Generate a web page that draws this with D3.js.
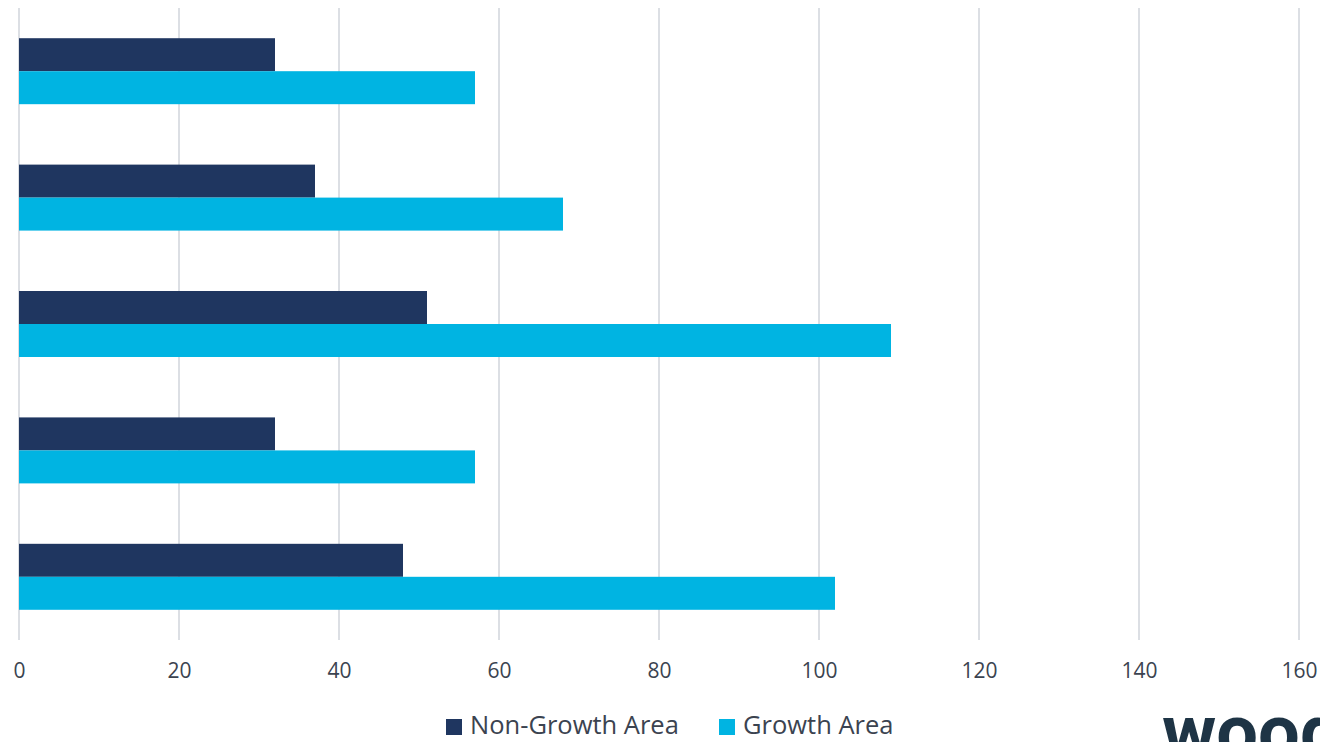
<!DOCTYPE html>
<html>
<head>
<meta charset="utf-8">
<script src="https://cdn.jsdelivr.net/npm/d3@7"></script>
<style>
  html, body { margin: 0; padding: 0; background: #ffffff; overflow: hidden; }
  svg { display: block; }
</style>
</head>
<body>
<svg id="chart" width="1320" height="742"></svg>
<script>
// Groups listed top to bottom
const categories = ["Group 1", "Group 2", "Group 3", "Group 4", "Group 5"];
const seriesNames = ["Non-Growth Area", "Growth Area"];
const nonGrowth = [32, 37, 51, 32, 48];
const growth = [57, 68, 109, 57, 102];
const xTicks = [0, 20, 40, 60, 80, 100, 120, 140, 160];
const colors = ["#1F3660", "#00B4E2"];

const svg = d3.select("#chart");
const plot = { left: 19, right: 1299, top: 8, bottom: 640 };

const x = d3.scaleLinear().domain([0, 160]).range([plot.left, plot.right]);
const y = d3.scaleBand().domain(categories).range([plot.top, plot.bottom])
  .paddingInner(0.478).paddingOuter(0.239);
const ySub = d3.scaleBand().domain(seriesNames).range([0, y.bandwidth()]);

// Vertical gridlines
svg.append("g").selectAll("line").data(xTicks).join("line")
  .attr("x1", d => x(d)).attr("x2", d => x(d))
  .attr("y1", plot.top).attr("y2", plot.bottom)
  .attr("stroke", "#dcdfe4").attr("stroke-width", 2);

// Bars
const rows = categories.map((c, i) => ({ c, vals: [nonGrowth[i], growth[i]] }));
const g = svg.append("g").selectAll("g").data(rows).join("g")
  .attr("transform", d => `translate(0,${y(d.c)})`);
g.selectAll("rect").data(d => d.vals.map((v, k) => ({ v, k }))).join("rect")
  .attr("x", x(0))
  .attr("y", d => ySub(seriesNames[d.k]))
  .attr("width", d => x(d.v) - x(0))
  .attr("height", ySub.bandwidth())
  .attr("fill", d => colors[d.k]);

// X axis labels
const axis = d3.axisBottom(x).tickValues(xTicks).tickSize(0).tickPadding(0);
const ax = svg.append("g").attr("transform", `translate(0,${plot.bottom})`).call(axis);
ax.select(".domain").remove();
ax.selectAll("text")
  .attr("dy", null)
  .attr("y", 38)
  .attr("font-family", "'Open Sans', sans-serif")
  .attr("font-size", 21)
  .attr("fill", "#3b4350");

// Legend
const legend = svg.append("g").attr("font-family", "'Open Sans', sans-serif");
const legendItems = [
  { name: seriesNames[0], color: colors[0], x: 446 },
  { name: seriesNames[1], color: colors[1], x: 719 }
];
const li = legend.selectAll("g").data(legendItems).join("g")
  .attr("transform", d => `translate(${d.x},719)`);
li.append("rect").attr("width", 16).attr("height", 16).attr("fill", d => d.color);
li.append("text").attr("x", 24).attr("y", 15)
  .attr("font-size", 25.5).attr("fill", "#3b4350")
  .text(d => d.name);

// Brand mark, bottom right
svg.append("text")
  .attr("x", 1162).attr("y", 757)
  .attr("font-family", "Roboto, sans-serif")
  .attr("font-weight", 700)
  .attr("font-size", 74)
  .attr("fill", "#1e3445")
  .text("wood");
</script>
</body>
</html>
